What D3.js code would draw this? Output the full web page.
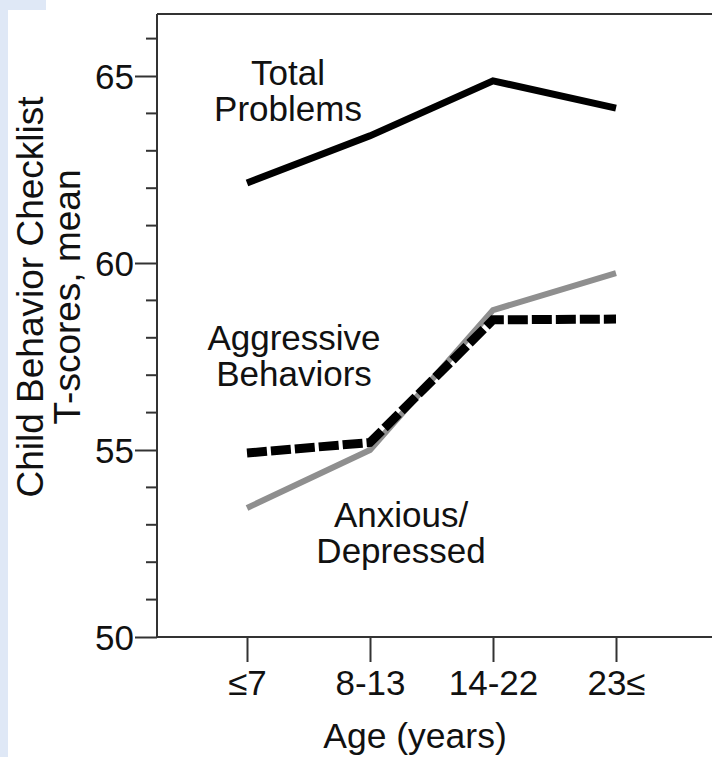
<!DOCTYPE html>
<html>
<head>
<meta charset="utf-8">
<script src="https://cdn.jsdelivr.net/npm/d3@7"></script>
<style>
html,body{margin:0;padding:0;background:#fff;}
svg{display:block;font-family:"Liberation Sans",Arial,sans-serif;}
</style>
</head>
<body>
<svg id="chart" width="712" height="757"></svg>
<script>
const categories = ["\u22647", "8-13", "14-22", "23\u2264"];
const totalProblems = [62.14, 63.4, 64.87, 64.14];
const anxiousDepressed = [53.45, 55.0, 58.74, 59.73];
const aggressiveBehaviors = [54.92, 55.2, 58.48, 58.5];
const yMajorTicks = [50, 55, 60, 65];
const yMinorTicks = [51,52,53,54,56,57,58,59,61,62,63,64,66];
const yTitle = ["Child Behavior Checklist", "T-scores, mean"];
const xTitle = "Age (years)";
const seriesLabels = [
  {lines:["Total", "Problems"], x:288, y:85},
  {lines:["Aggressive", "Behaviors"], x:294, y:350},
  {lines:["Anxious/", "Depressed"], x:401, y:527}
];

const svg = d3.select("#chart");
svg.append("rect").attr("x",0).attr("y",0).attr("width",46).attr("height",10).attr("fill","#dfe8f6");
svg.append("rect").attr("x",0).attr("y",0).attr("width",8).attr("height",757).attr("fill","#dfe8f6");

const x = d3.scalePoint().domain(categories).range([247, 616]);
const y = d3.scaleLinear().domain([50, 65]).range([637, 76]);
const axisX = 157, topY = y(66.66), rightX = 712;
const axisColor = "#333";

svg.append("line").attr("x1",axisX).attr("x2",rightX).attr("y1",topY).attr("y2",topY)
  .attr("stroke",axisColor).attr("stroke-width",2);

const yAxis = d3.axisLeft(y).tickValues(yMajorTicks).tickSize(22).tickPadding(1).tickFormat(d3.format("d"));
const gy = svg.append("g").attr("transform",`translate(${axisX},0)`).call(yAxis);
gy.select(".domain").remove();
gy.selectAll(".tick line").attr("stroke",axisColor).attr("stroke-width",2);
gy.selectAll(".tick text").attr("font-size",35).attr("fill","#111").attr("dy","0.36em").attr("font-family","Liberation Sans, Arial, sans-serif");
gy.append("line").attr("x1",0).attr("x2",0).attr("y1",topY).attr("y2",y(50)+1).attr("stroke",axisColor).attr("stroke-width",2);
gy.selectAll(".minor").data(yMinorTicks).enter().append("line").attr("class","minor")
  .attr("x1",-11).attr("x2",0).attr("y1",d=>y(d)).attr("y2",d=>y(d)).attr("stroke",axisColor).attr("stroke-width",2);

const xAxis = d3.axisBottom(x).tickSize(25).tickPadding(8);
const gx = svg.append("g").attr("transform",`translate(0,${y(50)})`).call(xAxis);
gx.select(".domain").remove();
gx.selectAll(".tick line").attr("stroke",axisColor).attr("stroke-width",2);
gx.selectAll(".tick text").attr("font-size",35).attr("fill","#111").attr("font-family","Liberation Sans, Arial, sans-serif");
gx.append("line").attr("x1",axisX-1).attr("x2",rightX).attr("y1",0).attr("y2",0).attr("stroke",axisColor).attr("stroke-width",2);

svg.append("text").attr("x",415).attr("y",748).attr("text-anchor","middle").attr("font-size",35.5).attr("fill","#111").text(xTitle);
const yt = svg.append("text").attr("transform","translate(43,297) rotate(-90)").attr("text-anchor","middle").attr("font-size",37).attr("fill","#111");
yt.append("tspan").attr("x",0).attr("y",0).text(yTitle[0]);
yt.append("tspan").attr("x",0).attr("y",37).text(yTitle[1]);

const line = d3.line().x((d,i)=>x(categories[i])).y(d=>y(d));
svg.append("path").datum(anxiousDepressed).attr("d",line).attr("fill","none")
  .attr("stroke","#8f8f8f").attr("stroke-width",6).attr("stroke-linejoin","miter");
svg.append("path").datum(aggressiveBehaviors).attr("d",line).attr("fill","none")
  .attr("stroke","#000").attr("stroke-width",9).attr("stroke-dasharray","20,4").attr("stroke-linejoin","miter");
svg.append("path").datum(totalProblems).attr("d",line).attr("fill","none")
  .attr("stroke","#000").attr("stroke-width",7).attr("stroke-linejoin","miter");

seriesLabels.forEach(s=>{
  s.lines.forEach((l,i)=>svg.append("text").attr("text-anchor","middle").attr("font-size",35).attr("fill","#111")
    .attr("x",s.x).attr("y",s.y+i*36).text(l));
});
</script>
</body>
</html>
